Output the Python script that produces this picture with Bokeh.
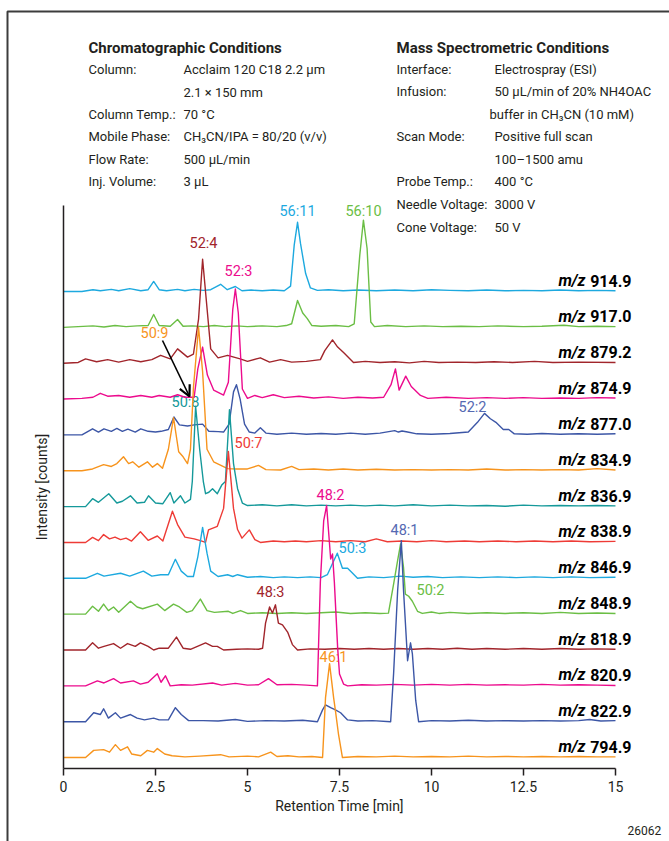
from bokeh.plotting import figure
from bokeh.models import Range1d, Label, Arrow, OpenHead, FixedTicker, ColumnDataSource
from bokeh.core.properties import value
from bokeh.embed import file_html
from bokeh.resources import INLINE

FONT = "Roboto"

# ---------------- data (retention time [min], relative intensity) ----------------
mz_labels = ["914.9", "917.0", "879.2", "874.9", "877.0", "834.9", "836.9",
             "838.9", "846.9", "848.9", "818.9", "820.9", "822.9", "794.9"]

t_9149 = [0, 0.5, 0.8, 1.0, 1.3, 1.5, 1.8, 2.1, 2.3, 2.45, 2.6, 2.8, 3.1, 3.3, 3.55, 3.8, 4.0, 4.27, 4.45, 4.67, 4.85, 5.1, 5.4, 5.7, 6.0, 6.17, 6.27, 6.36, 6.44, 6.58, 6.71, 6.9, 7.2, 7.6, 8.0, 8.5, 9.0, 9.5, 10.0, 10.5, 11.0, 11.5, 12.0, 12.5, 13.0, 13.5, 14.0, 14.5, 15.0]
h_9149 = [0, 0, 0.05, 0.02, 0.06, 0.02, 0.08, 0.02, 0.05, 0.28, 0.05, 0.02, 0.06, 0.02, 0.06, 0.03, 0.05, 0.2, 0.05, 0.14, 0.02, 0.04, 0.02, 0.04, 0.02, 0.15, 1.3, 1.93, 1.34, 0.5, 0.1, 0.03, 0.05, 0.02, 0.04, 0.02, 0.04, 0.02, 0.05, 0.03, 0.02, 0.04, 0.02, 0.03, 0.02, 0.04, 0.02, 0.03, 0.02]

t_9170 = [0, 0.8, 1.1, 1.4, 1.7, 2.0, 2.3, 2.45, 2.6, 2.9, 3.1, 3.25, 3.5, 3.8, 4.1, 4.4, 4.7, 5.0, 5.4, 5.8, 6.05, 6.2, 6.36, 6.5, 6.62, 6.75, 7.0, 7.4, 7.75, 7.9, 8.05, 8.15, 8.25, 8.35, 8.45, 8.8, 9.3, 9.8, 10.3, 10.8, 11.3, 11.8, 12.5, 13.0, 13.6, 14.0, 14.5, 15.0]
h_9170 = [0, 0.04, 0.01, 0.05, 0.02, 0.04, 0.05, 0.36, 0.05, 0.03, 0.22, 0.03, 0.04, 0.02, 0.05, 0.02, 0.04, 0.02, 0.04, 0.02, 0.05, 0.1, 0.75, 0.4, 0.25, 0.05, 0.03, 0.05, 0.02, 0.1, 2.0, 2.99, 2.2, 0.15, 0.02, 0.05, 0.02, 0.04, 0.02, 0.03, 0.02, 0.04, 0.02, 0.03, 0.06, 0.02, 0.03, 0.02]

t_8792 = [0, 0.4, 0.6, 0.9, 1.2, 1.5, 1.8, 2.1, 2.4, 2.64, 2.9, 3.1, 3.37, 3.53, 3.67, 3.78, 3.91, 4.0, 4.2, 4.46, 4.8, 5.0, 5.35, 5.6, 5.9, 6.2, 6.6, 6.98, 7.1, 7.31, 7.45, 7.61, 7.88, 8.2, 8.6, 9.0, 9.4, 9.8, 10.2, 10.7, 11.2, 11.7, 12.2, 12.8, 13.3, 14.0, 15.0]
h_8792 = [0, 0.02, 0.12, 0.04, 0.1, 0.03, 0.1, 0.04, 0.1, 0.22, 0.12, 0.4, 0.17, 0.25, 1.23, 2.9, 1.42, 0.4, 0.15, 0.22, 0.12, 0.05, 0.15, 0.03, 0.1, 0.03, 0.05, 0.1, 0.35, 0.65, 0.45, 0.3, 0.02, 0.05, 0.02, 0.04, 0.01, 0.05, 0.02, 0.03, 0.02, 0.04, 0.02, 0.05, 0.02, 0.03, 0.02]

t_8749 = [0, 0.5, 0.8, 1.0, 1.2, 1.5, 1.8, 2.1, 2.4, 2.6, 2.9, 3.1, 3.3, 3.55, 3.65, 3.78, 3.91, 4.08, 4.35, 4.48, 4.6, 4.67, 4.75, 4.86, 5.0, 5.2, 5.4, 5.7, 6.0, 6.4, 6.8, 7.2, 7.6, 8.0, 8.4, 8.7, 8.9, 9.02, 9.12, 9.3, 9.45, 9.7, 9.9, 10.4, 11.0, 11.5, 12.0, 12.5, 13.0, 13.5, 14.0, 14.5, 15.0]
h_8749 = [0, 0.02, 0.05, 0.16, 0.08, 0.1, 0.05, 0.1, 0.05, 0.1, 0.05, 0.12, 0.05, 0.05, 0.84, 1.45, 0.67, 0.25, 0.11, 0.47, 2.5, 3.07, 2.4, 0.28, 0.02, 0.1, 0.04, 0.12, 0.04, 0.08, 0.03, 0.06, 0.02, 0.05, 0.03, 0.05, 0.4, 0.84, 0.25, 0.64, 0.35, 0.1, 0.02, 0.05, 0.02, 0.04, 0.02, 0.04, 0.02, 0.03, 0.02, 0.04, 0.03]

t_8770 = [0, 0.5, 0.79, 0.95, 1.1, 1.3, 1.45, 1.6, 1.75, 1.95, 2.1, 2.3, 2.5, 2.65, 2.85, 3.0, 3.15, 3.37, 3.55, 3.78, 3.95, 4.2, 4.35, 4.5, 4.62, 4.7, 4.8, 4.92, 5.05, 5.2, 5.35, 5.5, 5.8, 6.2, 6.6, 7.0, 7.4, 7.8, 8.2, 8.6, 9.0, 9.1, 9.2, 9.35, 9.6, 10.0, 10.5, 11.0, 11.25, 11.44, 11.6, 11.75, 11.95, 12.1, 12.25, 12.6, 13.0, 13.5, 14.0, 14.5, 15.0]
h_8770 = [0, 0, 0.17, 0.08, 0.17, 0.1, 0.18, 0.1, 0.16, 0.08, 0.17, 0.1, 0.08, 0.1, 0.15, 0.5, 0.28, 0.25, 0.28, 0.3, 0.1, 0.09, 0.08, 0.3, 1.2, 1.4, 1.0, 0.3, 0.08, 0.05, 0.2, 0.05, 0.02, 0.05, 0.02, 0.04, 0.02, 0.05, 0.02, 0.05, 0.12, 0.08, 0.11, 0.08, 0.03, 0.02, 0.04, 0.08, 0.35, 0.6, 0.45, 0.35, 0.15, 0.15, 0.03, 0.02, 0.04, 0.02, 0.03, 0.02, 0.03]

t_8349 = [0, 0.5, 0.79, 1.09, 1.3, 1.45, 1.63, 1.77, 1.88, 2.05, 2.28, 2.42, 2.55, 2.69, 2.85, 2.99, 3.13, 3.25, 3.37, 3.45, 3.53, 3.67, 3.78, 3.9, 4.08, 4.46, 4.7, 5.0, 5.3, 5.5, 5.9, 6.2, 6.4, 6.8, 7.2, 7.6, 8.0, 8.5, 9.0, 9.5, 10.0, 10.5, 11.0, 11.5, 12.0, 12.5, 13.0, 13.5, 14.0, 14.5, 15.0]
h_8349 = [0, 0, 0.05, 0.17, 0.12, 0.2, 0.39, 0.2, 0.25, 0.1, 0.25, 0.1, 0.2, 0.07, 0.6, 1.48, 0.53, 0.39, 0.2, 0.6, 2.3, 4.0, 2.76, 0.6, 0.25, 0.06, 0.05, 0.05, 0.15, 0.03, 0.02, 0.12, 0.03, 0.05, 0.02, 0.05, 0.02, 0.04, 0.02, 0.03, 0.02, 0.03, 0.02, 0.05, 0.02, 0.03, 0.02, 0.03, 0.02, 0.06, 0.02]

t_8369 = [0, 0.6, 0.79, 0.95, 1.23, 1.45, 1.6, 1.82, 2.0, 2.2, 2.31, 2.5, 2.7, 2.9, 3.0, 3.18, 3.3, 3.45, 3.5, 3.59, 3.7, 3.8, 3.86, 3.95, 4.05, 4.18, 4.3, 4.4, 4.51, 4.62, 4.73, 4.86, 5.0, 5.4, 5.8, 6.2, 6.6, 7.0, 7.4, 7.8, 8.2, 8.6, 9.0, 9.5, 10.0, 10.5, 11.0, 11.5, 12.0, 12.5, 13.0, 13.5, 14.0, 14.5, 15.0]
h_8369 = [0, 0, 0.22, 0.12, 0.36, 0.1, 0.15, 0.3, 0.1, 0.12, 0.3, 0.1, 0.08, 0.39, 0.1, 0.3, 0.1, 0.2, 0.7, 2.8, 1.6, 0.7, 0.36, 0.4, 0.5, 0.36, 0.6, 0.7, 2.7, 1.2, 0.5, 0.1, 0.03, 0.05, 0.02, 0.05, 0.02, 0.04, 0.02, 0.04, 0.02, 0.04, 0.02, 0.05, 0.02, 0.04, 0.02, 0.03, 0.01, 0.04, 0.02, 0.03, 0.02, 0.03, 0.02]

t_8389 = [0, 0.6, 0.79, 0.95, 1.09, 1.25, 1.4, 1.55, 1.7, 1.85, 2.09, 2.3, 2.55, 2.7, 2.96, 3.1, 3.3, 3.55, 3.72, 3.86, 3.94, 4.18, 4.35, 4.48, 4.62, 4.73, 4.85, 5.05, 5.2, 5.35, 5.7, 6.0, 6.3, 6.6, 7.0, 7.4, 7.8, 8.2, 8.5, 8.8, 9.2, 9.6, 10.0, 10.4, 10.9, 11.3, 11.8, 12.3, 12.8, 13.3, 13.8, 14.3, 15.0]
h_8389 = [0, 0, 0.14, 0.05, 0.22, 0.1, 0.15, 0.08, 0.12, 0.04, 0.3, 0.06, 0.18, 0.04, 0.87, 0.5, 0.15, 0.1, 0.05, 0.0, 0.35, 0.45, 0.95, 2.54, 0.95, 0.36, 0.12, 0.35, 0.08, 0.0, 0.04, 0.02, 0.04, 0.02, 0.05, 0.02, 0.05, 0.02, 0.1, 0.02, 0.04, 0.02, 0.05, 0.02, 0.04, 0.02, 0.04, 0.02, 0.04, 0.02, 0.04, 0.02, 0.03]

t_8469 = [0, 0.6, 0.92, 1.1, 1.55, 1.8, 2.17, 2.4, 2.64, 2.85, 3.04, 3.2, 3.37, 3.53, 3.65, 3.78, 3.9, 4.0, 4.2, 4.46, 4.6, 4.73, 5.0, 5.35, 5.7, 6.0, 6.36, 6.7, 7.0, 7.17, 7.3, 7.44, 7.58, 7.72, 7.85, 7.99, 8.3, 8.7, 9.16, 9.5, 9.9, 10.3, 10.8, 11.3, 11.8, 12.3, 12.8, 13.3, 13.8, 14.3, 15.0]
h_8469 = [0, 0, 0.14, 0.06, 0.14, 0.06, 0.2, 0.06, 0.1, 0.1, 0.53, 0.2, 0.05, 0.05, 0.6, 1.42, 0.7, 0.2, 0.05, 0.1, 0.05, 0.1, 0.03, 0.05, 0.02, 0.04, 0.02, 0.04, 0.02, 0.1, 0.39, 0.7, 0.28, 0.28, 0.15, 0.0, 0.04, 0.02, 0.06, 0.03, 0.05, 0.02, 0.04, 0.02, 0.04, 0.02, 0.04, 0.02, 0.04, 0.02, 0.03]

t_8489 = [0, 0.6, 0.79, 0.95, 1.09, 1.22, 1.36, 1.5, 1.82, 2.0, 2.15, 2.55, 2.75, 2.99, 3.15, 3.35, 3.5, 3.72, 3.9, 4.1, 4.48, 4.6, 4.81, 5.0, 5.4, 5.8, 6.2, 6.6, 7.0, 7.4, 7.8, 8.2, 8.6, 8.83, 8.97, 9.08, 9.16, 9.24, 9.29, 9.38, 9.48, 9.62, 9.75, 10.0, 10.2, 10.5, 11.0, 11.5, 12.0, 12.5, 13.0, 13.5, 14.0, 14.5, 15.0]
h_8489 = [0, 0, 0.22, 0.08, 0.28, 0.1, 0.2, 0.05, 0.36, 0.2, 0.15, 0.28, 0.1, 0.28, 0.2, 0.05, 0.1, 0.42, 0.1, 0.05, 0.08, 0.02, 0.1, 0.02, 0.04, 0.02, 0.04, 0.02, 0.04, 0.06, 0.02, 0.04, 0.02, 0.03, 0.84, 1.5, 1.96, 1.3, 0.56, 0.5, 0.36, 0.08, 0.02, 0.06, 0.02, 0.05, 0.02, 0.04, 0.02, 0.04, 0.02, 0.05, 0.02, 0.03, 0.02]

t_8189 = [0, 0.6, 0.79, 0.95, 1.1, 1.36, 1.55, 1.74, 1.95, 2.09, 2.3, 2.45, 2.6, 2.85, 3.07, 3.25, 3.45, 3.86, 4.05, 4.18, 4.35, 4.7, 5.0, 5.3, 5.41, 5.49, 5.6, 5.68, 5.76, 5.84, 5.95, 6.09, 6.22, 6.36, 6.7, 7.1, 7.5, 7.9, 8.3, 8.7, 9.1, 9.5, 9.9, 10.3, 10.7, 11.1, 11.5, 12.0, 12.5, 13.0, 13.5, 14.0, 14.5, 15.0]
h_8189 = [0, 0, 0.2, 0.05, 0.1, 0.18, 0.05, 0.18, 0.1, 0.2, 0.1, 0.0, 0.05, 0.05, 0.36, 0.05, 0.02, 0.2, 0.1, 0.1, 0.0, 0.02, 0.03, 0.02, 0.05, 0.75, 1.2, 1.03, 1.26, 0.75, 0.7, 0.5, 0.15, 0.0, 0.03, 0.02, 0.04, 0.02, 0.04, 0.02, 0.04, 0.02, 0.04, 0.02, 0.05, 0.02, 0.04, 0.02, 0.04, 0.02, 0.04, 0.02, 0.03, 0.02]

t_8209 = [0, 0.6, 0.92, 1.1, 1.36, 1.55, 1.9, 2.09, 2.3, 2.55, 2.65, 2.77, 2.9, 3.2, 3.5, 4.05, 4.3, 4.67, 5.0, 5.3, 5.57, 5.8, 6.2, 6.6, 6.9, 6.98, 7.07, 7.15, 7.26, 7.31, 7.36, 7.45, 7.5, 7.61, 7.72, 8.1, 8.5, 9.0, 9.5, 10.0, 10.5, 11.0, 11.5, 12.0, 12.5, 13.0, 13.5, 14.0, 14.5, 15.0]
h_8209 = [0, 0, 0.14, 0.08, 0.2, 0.08, 0.14, 0.05, 0.1, 0.34, 0.1, 0.28, 0.0, 0.03, 0.02, 0.08, 0.02, 0.07, 0.02, 0.03, 0.2, 0.03, 0.04, 0.02, 0.0, 2.9, 4.6, 5.03, 3.54, 3.68, 2.9, 1.06, 0.33, 0.05, 0.0, 0.03, 0.02, 0.04, 0.02, 0.04, 0.02, 0.04, 0.02, 0.03, 0.02, 0.04, 0.02, 0.03, 0.02, 0.01]

t_8229 = [0, 0.6, 0.82, 1.0, 1.09, 1.22, 1.41, 1.55, 1.82, 2.0, 2.2, 2.45, 2.6, 2.85, 3.04, 3.2, 3.4, 3.8, 4.2, 4.67, 5.0, 5.5, 6.0, 6.5, 6.9, 7.04, 7.12, 7.26, 7.39, 7.53, 7.72, 8.0, 8.4, 8.89, 8.97, 9.08, 9.18, 9.24, 9.35, 9.43, 9.48, 9.57, 9.65, 10.0, 10.5, 11.0, 11.5, 12.0, 12.5, 13.0, 13.5, 14.0, 14.3, 14.6, 15.0]
h_8229 = [0, 0, 0.25, 0.2, 0.36, 0.1, 0.25, 0.1, 0.2, 0.1, 0.05, 0.1, 0.05, 0.05, 0.39, 0.2, 0.03, 0.03, 0.02, 0.06, 0.01, 0.03, 0.02, 0.04, 0.0, 0.33, 0.47, 0.39, 0.33, 0.25, 0.05, 0.02, 0.03, 0.0, 1.34, 3.66, 5.05, 3.66, 1.7, 2.2, 1.9, 0.6, 0.0, 0.03, 0.02, 0.04, 0.02, 0.03, 0.02, 0.03, 0.02, 0.03, 0.06, 0.02, 0.03]

t_7949 = [0, 0.6, 0.82, 1.09, 1.25, 1.41, 1.55, 1.74, 1.85, 2.1, 2.28, 2.45, 2.55, 2.75, 2.95, 3.3, 3.7, 4.27, 4.5, 5.0, 5.3, 5.63, 5.8, 6.1, 6.4, 6.75, 7.04, 7.12, 7.23, 7.34, 7.39, 7.47, 7.58, 8.0, 8.5, 9.0, 9.5, 10.0, 10.5, 11.0, 11.5, 12.0, 12.5, 13.0, 13.5, 14.0, 14.5, 15.0]
h_7949 = [0, 0, 0.2, 0.22, 0.15, 0.36, 0.2, 0.3, 0.1, 0.05, 0.2, 0.15, 0.25, 0.1, 0.05, 0.02, 0.04, 0.08, 0.02, 0.04, 0.02, 0.15, 0.03, 0.05, 0.02, 0.03, 0.0, 1.67, 2.62, 1.67, 1.3, 0.67, 0.0, 0.03, 0.02, 0.04, 0.02, 0.03, 0.02, 0.04, 0.02, 0.03, 0.02, 0.03, 0.02, 0.03, 0.02, 0.02]

CYAN, GREEN, DKRED, PINK = "#1DA9DF", "#6BBE45", "#A1252B", "#EC0B8D"
BLUE, ORANGE, TEAL, RED = "#3C56A6", "#F7941D", "#15999A", "#EE3B36"

series_t = [t_9149, t_9170, t_8792, t_8749, t_8770, t_8349, t_8369,
            t_8389, t_8469, t_8489, t_8189, t_8209, t_8229, t_7949]
series_h = [h_9149, h_9170, h_8792, h_8749, h_8770, h_8349, h_8369,
            h_8389, h_8469, h_8489, h_8189, h_8209, h_8229, h_7949]
series_color = [CYAN, GREEN, DKRED, PINK, BLUE, ORANGE, TEAL,
                RED, CYAN, GREEN, DKRED, PINK, BLUE, ORANGE]

peak_names = ["56:11", "56:10", "52:4", "52:3", "50:9", "50:8", "50:7",
              "52:2", "48:2", "50:3", "48:1", "50:2", "48:3", "46:1"]
peak_px = [297, 363, 203, 238, 154, 185, 248, 472, 330, 352, 404, 430, 270, 333]
peak_py = [211, 211, 243, 271, 333, 402, 443, 407, 495, 548, 530, 590, 592, 657]
peak_color = [CYAN, GREEN, DKRED, PINK, ORANGE, TEAL, RED,
              "#5569B2", PINK, CYAN, "#5569B2", GREEN, DKRED, ORANGE]

x_ticks = [0, 2.5, 5, 7.5, 10, 12.5, 15]
x_tick_labels = ["0", "2.5", "5", "7.5", "10", "12.5", "15"]

chrom_title = "Chromatographic Conditions"
chrom_keys = ["Column:", "", "Column Temp.:", "Mobile Phase:", "Flow Rate:", "Inj. Volume:"]
chrom_vals = ["Acclaim 120 C18 2.2 µm", "2.1 × 150 mm", "70 °C",
              "CH\u2083CN/IPA = 80/20 (v/v)", "500 µL/min", "3 µL"]
ms_title = "Mass Spectrometric Conditions"
ms_keys = ["Interface:", "Infusion:", "", "Scan Mode:", "", "Probe Temp.:",
           "Needle Voltage:", "Cone Voltage:"]
ms_vals = ["Electrospray (ESI)", "50 µL/min of 20% NH4OAC", "buffer in CH\u2083CN (10 mM)",
           "Positive full scan", "100–1500 amu", "400 °C", "3000 V", "50 V"]

# ---------------- layout geometry (canvas pixels) ----------------
PX0, PXW = 63, 36.8          # t = 0 at px 63, 36.8 px per minute
BASE_TOP, SPACING = 291, 35.85
N = len(mz_labels)
W, H = 669, 841

def tx(px):
    return (px - PX0) / PXW

def ty(py):
    return (N - 1) + (BASE_TOP - py) / SPACING

p = figure(width=W, height=H, output_backend="svg", toolbar_location=None,
           x_range=Range1d(tx(0), tx(W)), y_range=Range1d(ty(H), ty(0)),
           min_border=0)
p.outline_line_color = None
p.xgrid.visible = False
p.ygrid.visible = False
p.background_fill_color = "white"
p.border_fill_color = "white"

AX = "#231F20"
p.xaxis.fixed_location = ty(768)
p.xaxis.bounds = (0, 15)
p.xaxis.ticker = FixedTicker(ticks=x_ticks)
p.xaxis.major_label_overrides = {float(t): l for t, l in zip(x_ticks, x_tick_labels)}
p.xaxis.minor_tick_line_color = None
p.xaxis.major_tick_in = 0
p.xaxis.major_tick_out = 7
p.xaxis.axis_line_color = AX
p.xaxis.axis_line_width = 1.5
p.xaxis.major_tick_line_color = AX
p.xaxis.major_tick_line_width = 1.5
p.xaxis.major_label_text_font = FONT
p.xaxis.major_label_text_font_size = "14px"
p.xaxis.major_label_text_color = AX
p.xaxis.major_label_standoff = 5
p.xaxis.axis_label = "Retention Time [min]"
p.xaxis.axis_label_text_font = FONT
p.xaxis.axis_label_text_font_size = "14px"
p.xaxis.axis_label_text_font_style = "normal"
p.xaxis.axis_label_text_color = AX
p.xaxis.axis_label_standoff = 3

p.yaxis.fixed_location = 0
p.yaxis.bounds = (ty(768), ty(205))
p.yaxis.ticker = FixedTicker(ticks=[])
p.yaxis.minor_tick_line_color = None
p.yaxis.major_tick_line_color = None
p.yaxis.major_tick_out = 0
p.yaxis.major_tick_in = 0
p.yaxis.axis_line_color = AX
p.yaxis.axis_line_width = 1.5
p.yaxis.axis_label = "Intensity [counts]"
p.yaxis.axis_label_text_font = FONT
p.yaxis.axis_label_text_font_size = "14px"
p.yaxis.axis_label_text_font_style = "normal"
p.yaxis.axis_label_text_color = AX
p.yaxis.axis_label_standoff = 14

# figure box border (top and left edges)
p.line([tx(7), tx(7), tx(W + 5)], [ty(H + 5), ty(11), ty(11)],
       line_color="#3C3C3C", line_width=2)

# peak labels (under the traces)
src = ColumnDataSource(dict(x=[tx(v) for v in peak_px], y=[ty(v) for v in peak_py],
                            text=peak_names, color=peak_color))
p.text(x="x", y="y", text="text", text_color="color", source=src,
       text_font=value(FONT), text_font_size="14.5px", text_align="center",
       text_baseline="middle")

# traces, stacked
for i, (t, h, c) in enumerate(zip(series_t, series_h, series_color)):
    off = N - 1 - i
    p.line(t, [v + off for v in h], line_color=c, line_width=1.4,
           line_join="round")

# arrow for 50:9
p.add_layout(Arrow(end=OpenHead(size=11, line_width=2.2, line_color="black"),
                   x_start=tx(162), y_start=ty(340), x_end=tx(189), y_end=ty(396),
                   line_width=1.6, line_color="black"))

# m/z labels
for i, lab in enumerate(mz_labels):
    yb = ty(BASE_TOP + i * SPACING - 11)
    p.add_layout(Label(x=tx(585), y=yb, text="m/z", text_font=FONT,
                       text_font_size="16px", text_font_style="bold italic",
                       text_color="black", text_baseline="middle", text_align="right"))
    p.add_layout(Label(x=tx(631), y=yb, text=lab, text_font=FONT,
                       text_font_size="16px", text_font_style="bold",
                       text_color="black", text_baseline="middle", text_align="right"))

# conditions text
def put(px, py, txt, bold=False, size="13px"):
    if not txt:
        return
    p.add_layout(Label(x=tx(px), y=ty(py), text=txt, text_font=FONT,
                       text_font_size=size, text_font_style="bold" if bold else "normal",
                       text_color=AX, text_baseline="middle", text_align="left"))

put(88, 47, chrom_title, bold=True, size="15px")
chrom_y = [69, 92, 114, 136, 159, 181]
for k, v, yy in zip(chrom_keys, chrom_vals, chrom_y):
    put(88, yy, k)
    put(183, yy, v)

put(396, 47, ms_title, bold=True, size="15px")
ms_y = [69, 91, 114, 136, 159, 181, 204, 227]
ms_vx = [494, 494, 489, 494, 494, 494, 494, 494]
for k, v, yy, vx in zip(ms_keys, ms_vals, ms_y, ms_vx):
    put(396, yy, k)
    put(vx, yy, v)

put(627, 830, "26062", size="12px")

open("out.html", "w").write(file_html(p, INLINE))
